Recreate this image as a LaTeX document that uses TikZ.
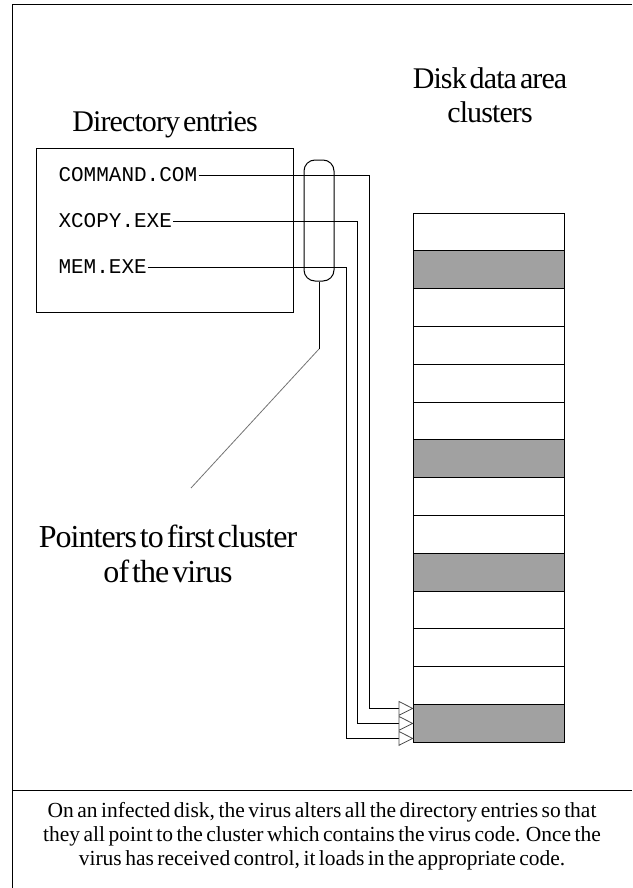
\documentclass[tikz,border=0pt]{standalone}
\usepackage{fontspec}
\setmainfont{Liberation Serif}
\setmonofont{Liberation Mono}
\newfontfamily\tightfont[LetterSpace=-3]{Liberation Serif}
\newcommand\titlefont{\tightfont\fontsize{30}{34.5}\selectfont\spaceskip=3pt\relax}
\newcommand\labelfont{\tightfont\fontsize{32}{35}\selectfont\spaceskip=3pt\relax}
\newcommand\captionfont{\fontsize{21.5}{24}\selectfont\spaceskip=3.5pt\relax}
\usetikzlibrary{positioning,arrows.meta}

\begin{document}
\begin{tikzpicture}[x=1pt, y=-1pt, line width=1pt,
  title/.style={align=center, font=\titlefont},
  entry/.style={anchor=west, inner sep=1pt, font=\ttfamily\fontsize{21}{24}\selectfont},
  cell/.style={draw, minimum width=151pt, minimum height=37.8pt, inner sep=0pt, outer sep=0pt},
  virus/.style={cell, fill=black!37},
  arr/.style={-{Triangle[open, length=15pt, width=15pt, line width=0.8pt, color=black!70]}}]
  \useasboundingbox (0,0) rectangle (632,888);
  % frame
  \draw (632,5) -- (12,5) -- (12,888);
  \draw (12,790) -- (632,790);
  % titles
  \node[title] (dirtitle) at (165,125) {Directory entries};
  \node[title] (disktitle) at (490,95) {Disk data area\\clusters};
  % directory entries
  \node[draw, minimum width=257pt, minimum height=164pt, inner sep=0pt] (dirbox) at (164.5,230) {};
  \node[entry] (cmd) at (57,175) {COMMAND.COM};
  \node[entry] (xcopy) at (57,221) {XCOPY.EXE};
  \node[entry] (mem) at (57,267) {MEM.EXE};
  % clusters
  \foreach \i in {0,...,13}
    \node[cell] (c\i) at (489,{232+37.8*\i}) {};
  \foreach \i in {1,6,9,13}
    \node[virus] at (c\i) {};
  % pointers
  \node[draw, rounded corners=11pt, minimum width=30pt, minimum height=121pt, inner sep=0pt] (ptr) at (319,220.5) {};
  \draw[arr] (cmd.east) -- (369,175) |- ([yshift=15pt]c13.west);
  \draw[arr] (xcopy.east) -- (357,221) |- (c13.west);
  \draw[arr] (mem.east) -- (346,267) |- ([yshift=-15pt]c13.west);
  % label
  \node[align=center, font=\labelfont] (ptrlabel) at (168,554) {Pointers to first cluster\\of the virus};
  \coordinate (knee) at (319,349);
  \coordinate (tail) at (191,488);
  \draw (ptr.south) -- (knee);
  \draw[black!55, line width=0.8pt] (knee) -- (tail);
  % caption
  \node[align=center, font=\captionfont] (caption) at (322,836)
    {On an infected disk, the virus alters all the directory entries so that\\
     they all point to the cluster which contains the virus code. Once the\\
     virus has received control, it loads in the appropriate code.};
\end{tikzpicture}
\end{document}
